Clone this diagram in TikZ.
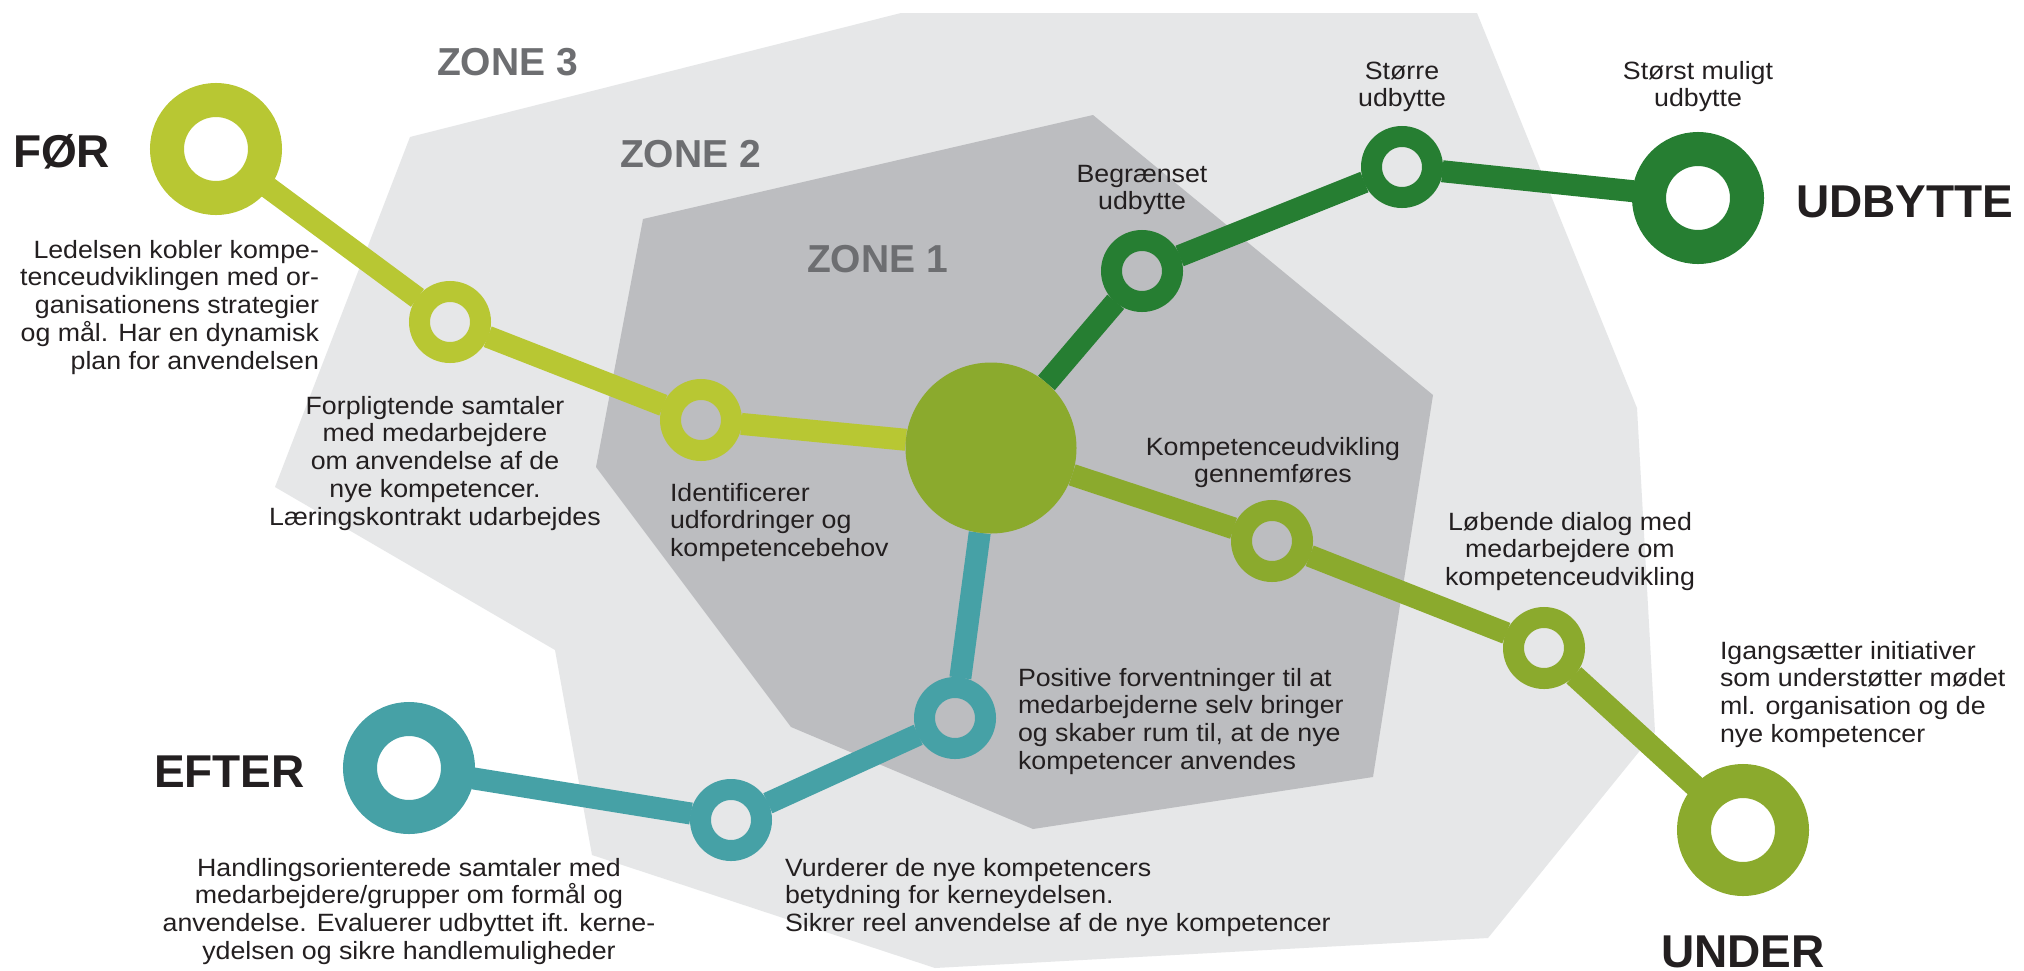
\documentclass[tikz,border=0pt]{standalone}
\usepackage{fontspec}
\setmainfont{Liberation Sans}
\newfontfamily\bodyfont{Liberation Sans}[FakeStretch=1.07]
\definecolor{cLime}{HTML}{B8C733}
\definecolor{cDark}{HTML}{267E32}
\definecolor{cOlive}{HTML}{8BAA2D}
\definecolor{cTeal}{HTML}{46A1A6}
\definecolor{cZoneA}{HTML}{E6E7E8}
\definecolor{cZoneB}{HTML}{BCBDC0}
\definecolor{cZoneTxt}{HTML}{6D6E71}
\definecolor{cTxt}{HTML}{231F20}
\pgfdeclarelayer{zones}
\pgfdeclarelayer{links}
\pgfsetlayers{zones,links,main}
\tikzset{
  bigring/.style={circle, draw=#1, line width=34pt, minimum size=98pt, inner sep=0pt, outer sep=16pt, fill=white},
  smallring/.style={circle, draw=#1, line width=21pt, minimum size=61pt, inner sep=0pt, outer sep=10pt},
  disk/.style={circle, fill=cOlive, minimum size=171pt, inner sep=0pt, outer sep=0pt},
  link/.style={draw=#1, line width=22pt},
  txt/.style={font=\bodyfont\fontsize{25pt}{27.9pt}\selectfont, text=cTxt, inner sep=0pt, outer sep=0pt},
  head/.style={font=\fontsize{46pt}{46pt}\selectfont\bfseries, text=cTxt, inner sep=0pt, outer sep=0pt},
  zonelabel/.style={font=\fontsize{39pt}{39pt}\selectfont\bfseries, text=cZoneTxt, inner sep=0pt, outer sep=0pt}
}
\begin{document}
\begin{tikzpicture}[x=1pt,y=-1pt]
\useasboundingbox (0,0) rectangle (2024,970);
\begin{pgfonlayer}{zones}
\fill[white] (0,0) rectangle (2024,970);
\fill[cZoneA] (410,137) -- (901,13) -- (1477,13) -- (1637,408) -- (1655,732) -- (1488,938) -- (935,968) -- (592,855) -- (555,650) -- (275,487) -- cycle;
\fill[cZoneB] (643,219) -- (1093,115) -- (1433,395) -- (1373,777) -- (1033,829) -- (791,727) -- (596,467) -- cycle;
\end{pgfonlayer}

\node[zonelabel, anchor=base west] (z3) at (437,75) {ZONE 3};
\node[zonelabel, anchor=base west] (z2) at (620,167) {ZONE 2};
\node[zonelabel, anchor=base west] (z1) at (807,272) {ZONE 1};

\node[bigring=cLime] (for) at (216,149) {};
\node[smallring=cLime] (l1) at (450,322) {};
\node[smallring=cLime] (l2) at (701,420) {};
\node[disk] (core) at (991,448) {};
\node[smallring=cDark] (g1) at (1142,271) {};
\node[smallring=cDark] (g2) at (1402,167) {};
\node[bigring=cDark] (udb) at (1698,198) {};
\node[smallring=cOlive] (o1) at (1272,541) {};
\node[smallring=cOlive] (o2) at (1544,648) {};
\node[bigring=cOlive] (und) at (1743,830) {};
\node[smallring=cTeal] (t1) at (955,718) {};
\node[smallring=cTeal] (t2) at (731,820) {};
\node[bigring=cTeal] (eft) at (409,768) {};

\begin{pgfonlayer}{links}
\draw[link=cLime] (for) -- (l1);
\draw[link=cLime] (l1) -- (l2);
\draw[link=cLime] (l2) -- (core);
\draw[link=cDark] (core) -- (g1);
\draw[link=cDark] (g1) -- (g2);
\draw[link=cDark] (g2) -- (udb);
\draw[link=cOlive] (core) -- (o1);
\draw[link=cOlive] (o1) -- (o2);
\draw[link=cOlive] (o2) -- (und);
\draw[link=cTeal] (core) -- (t1);
\draw[link=cTeal] (t1) -- (t2);
\draw[link=cTeal] (t2) -- (eft);
\end{pgfonlayer}

\node[head, anchor=base west] (hfor) at (13,167) {FØR};
\node[head, anchor=base west] (hudb) at (1796,217) {UDBYTTE};
\node[head, anchor=base west] (heft) at (154,787) {EFTER};
\node[head, anchor=base] (hund) at (1743,967) {UNDER};

% multi-line nodes: base anchor = baseline of the last line
\node[txt, align=right, anchor=base east] (x1) at (319,369.6) {Ledelsen kobler kompe-\\tenceudviklingen med or-\\ganisationens strategier\\og mål. Har en dynamisk\\plan for anvendelsen};
\node[txt, align=center, anchor=base] (x2) at (435,525.6) {Forpligtende samtaler\\med medarbejdere\\om anvendelse af de\\nye kompetencer.\\Læringskontrakt udarbejdes};
\node[txt, align=left, anchor=base west] (x3) at (670,556.8) {Identificerer\\udfordringer og\\kompetencebehov};
\node[txt, align=center, anchor=base] (x4) at (1142,209.9) {Begrænset\\udbytte};
\node[txt, align=center, anchor=base] (x5) at (1402,106.9) {Større\\udbytte};
\node[txt, align=center, anchor=base] (x6) at (1698,106.9) {Størst muligt\\udbytte};
\node[txt, align=center, anchor=base] (x7) at (1273,482.9) {Kompetenceudvikling\\gennemføres};
\node[txt, align=center, anchor=base] (x8) at (1570,585.8) {Løbende dialog med\\medarbejdere om\\kompetenceudvikling};
\node[txt, align=left, anchor=base west] (x9) at (1720,742.7) {Igangsætter initiativer\\som understøtter mødet\\ml. organisation og de\\nye kompetencer};
\node[txt, align=left, anchor=base west] (x10) at (1018,769.7) {Positive forventninger til at\\medarbejderne selv bringer\\og skaber rum til, at de nye\\kompetencer anvendes};
\node[txt, align=left, anchor=base west] (x11) at (785,931.8) {Vurderer de nye kompetencers\\betydning for kerneydelsen.\\Sikrer reel anvendelse af de nye kompetencer};
\node[txt, align=center, anchor=base] (x12) at (409,959.7) {Handlingsorienterede samtaler med\\medarbejdere/grupper om formål og\\anvendelse. Evaluerer udbyttet ift. kerne-\\ydelsen og sikre handlemuligheder};
\end{tikzpicture}
\end{document}
